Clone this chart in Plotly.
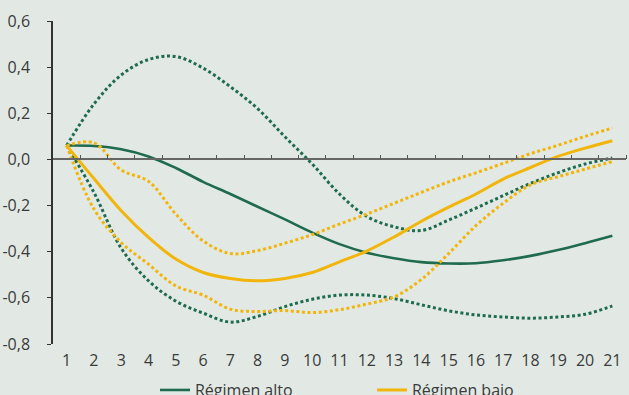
import plotly.graph_objects as go

periods = list(range(1, 22))

alto = [0.06, 0.058, 0.044, 0.013, -0.037, -0.097, -0.15, -0.205, -0.26, -0.317, -0.367,
        -0.404, -0.428, -0.445, -0.451, -0.45, -0.437, -0.418, -0.393, -0.363, -0.331]
alto_sup = [0.06, 0.24, 0.366, 0.433, 0.446, 0.396, 0.315, 0.22, 0.098, -0.02, -0.15,
            -0.247, -0.292, -0.308, -0.263, -0.211, -0.157, -0.104, -0.058, -0.02, 0.006]
alto_inf = [0.06, -0.143, -0.385, -0.526, -0.614, -0.666, -0.705, -0.68, -0.638, -0.606, -0.588,
            -0.588, -0.603, -0.63, -0.656, -0.674, -0.683, -0.688, -0.683, -0.671, -0.635]

bajo = [0.06, -0.083, -0.222, -0.338, -0.432, -0.49, -0.516, -0.526, -0.516, -0.49, -0.444,
        -0.397, -0.336, -0.268, -0.207, -0.15, -0.085, -0.035, 0.013, 0.049, 0.081]
bajo_sup = [0.06, 0.072, -0.046, -0.095, -0.237, -0.353, -0.408, -0.395, -0.363, -0.326, -0.28,
            -0.237, -0.19, -0.143, -0.097, -0.058, -0.017, 0.025, 0.061, 0.10, 0.136]
bajo_inf = [0.06, -0.215, -0.36, -0.454, -0.548, -0.588, -0.649, -0.659, -0.655, -0.664, -0.651,
            -0.627, -0.596, -0.52, -0.408, -0.287, -0.19, -0.11, -0.075, -0.042, -0.009]

y_tickvals = [-0.8, -0.6, -0.4, -0.2, 0.0, 0.2, 0.4, 0.6]
y_ticktext = ["-0,8", "-0,6", "-0,4", "-0,2", "0,0", "0,2", "0,4", "0,6"]
x_boundaries = [p + 0.5 for p in periods]

GREEN = "#1f6b4e"
ORANGE = "#f1b50c"
BG = "#e2e9e4"
FONT = "Open Sans"
FS = 16

fig = go.Figure()

# carrier for the zero-line axis with boundary ticks
fig.add_trace(go.Scatter(x=[], y=[], xaxis="x2", yaxis="y", showlegend=False, hoverinfo="skip"))

def add(y, color, name, dotted, show):
    fig.add_trace(go.Scatter(
        x=periods, y=y, mode="lines", name=name, showlegend=show,
        line=dict(color=color, width=3 if dotted else (3 if color == ORANGE else 2.6),
                  shape="spline", dash="3px,2.6px" if dotted else "solid"),
        hoverinfo="skip"))

add(alto_sup, GREEN, "alto_sup", True, False)
add(alto_inf, GREEN, "alto_inf", True, False)
add(alto, GREEN, "Régimen alto", False, True)
add(bajo_sup, ORANGE, "bajo_sup", True, False)
add(bajo_inf, ORANGE, "bajo_inf", True, False)
add(bajo, ORANGE, "Régimen bajo", False, True)

fig.update_layout(
    width=629, height=395,
    margin=dict(l=53, r=3, t=21, b=51, autoexpand=False),
    paper_bgcolor=BG, plot_bgcolor=BG,
    font=dict(family=FONT, size=FS, color="#3a3a3a"),
    xaxis=dict(range=[0.5, 21.5], tickvals=periods, ticktext=[str(p) for p in periods],
               ticks="", showline=False, showgrid=False, zeroline=False,
               ticklabelstandoff=5, automargin=False),
    xaxis2=dict(overlaying="x", matches="x", anchor="free", position=0.8 / 1.4,
                side="top", showline=True, linecolor="#666666", linewidth=1.5,
                ticks="outside", ticklen=4, tickwidth=1.2, tickcolor="#555555",
                tickvals=x_boundaries, showticklabels=False, showgrid=False,
                zeroline=False, automargin=False),
    yaxis=dict(range=[-0.8, 0.6], tickvals=y_tickvals, ticktext=y_ticktext,
               showline=True, linecolor="#333333", linewidth=1.5,
               ticks="outside", ticklen=4, tickcolor="#333333",
               showgrid=False, zeroline=False, ticklabelstandoff=14, automargin=False),
    legend=dict(orientation="h", x=0.178, xanchor="left", y=-0.09, yanchor="top",
                bgcolor="rgba(0,0,0,0)", entrywidth=172, entrywidthmode="pixels",
                font=dict(family=FONT, size=FS, color="#3a3a3a")),
)

fig.write_html("out.html", config={"displayModeBar": False},
               post_script="document.body.style.margin='0';document.body.style.overflow='hidden';")
